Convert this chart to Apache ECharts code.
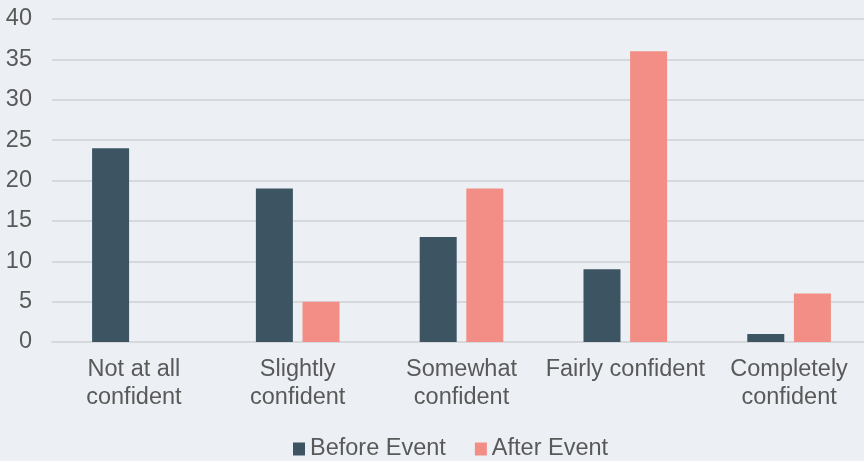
<!DOCTYPE html>
<html>
<head>
<meta charset="utf-8">
<style>
  html, body { margin: 0; padding: 0; background: #ecf0f4; }
  #chart { width: 864px; height: 461px; }
</style>
<script src="https://cdn.jsdelivr.net/npm/echarts@6/dist/echarts.min.js"></script>
</head>
<body>
<div id="chart"></div>
<script>
// categories and series values
const categories = ['Not at all\nconfident', 'Slightly\nconfident', 'Somewhat\nconfident', 'Fairly confident', 'Completely\nconfident']
const beforeEvent = [24, 19, 13, 9, 1]
const afterEvent = [0, 5, 19, 36, 6]

const textColor = '#595959'
const font = 'Liberation Sans, Arial, sans-serif'

const instance = echarts.init(document.getElementById('chart'))

const option = {
  backgroundColor: '#ecf0f4',
  animation: false,
  textStyle: { fontFamily: font },
  grid: {
    left: 52,
    top: 19,
    width: 819,
    height: 323,
    outerBoundsMode: 'none',
  },
  legend: {
    top: 432,
    left: 288,
    itemWidth: 12,
    itemHeight: 13,
    itemGap: 29,
    icon: 'rect',
    textStyle: { color: textColor, fontSize: 23.5, fontFamily: font },
    data: ['Before Event', 'After Event'],
  },
  xAxis: {
    type: 'category',
    data: categories,
    axisLine: { lineStyle: { color: '#d6d9dc', width: 2 } },
    axisTick: { show: false },
    axisLabel: {
      color: textColor,
      fontSize: 23.5,
      lineHeight: 28,
      margin: 14,
      fontFamily: font,
      interval: 0,
    },
  },
  yAxis: {
    type: 'value',
    min: 0,
    max: 40,
    interval: 5,
    axisLine: { show: false },
    axisTick: { show: false },
    axisLabel: { color: textColor, fontSize: 23.5, margin: 20, fontFamily: font },
    splitLine: { lineStyle: { color: '#d6d9dc', width: 2 } },
  },
  series: [
    {
      name: 'Before Event',
      type: 'bar',
      data: beforeEvent,
      barWidth: 37,
      barGap: '26%',
      itemStyle: { color: '#3d5463' },
    },
    {
      name: 'After Event',
      type: 'bar',
      data: afterEvent,
      barWidth: 37,
      itemStyle: { color: '#f28e85' },
    },
  ],
}

instance.setOption(option)
</script>
</body>
</html>
